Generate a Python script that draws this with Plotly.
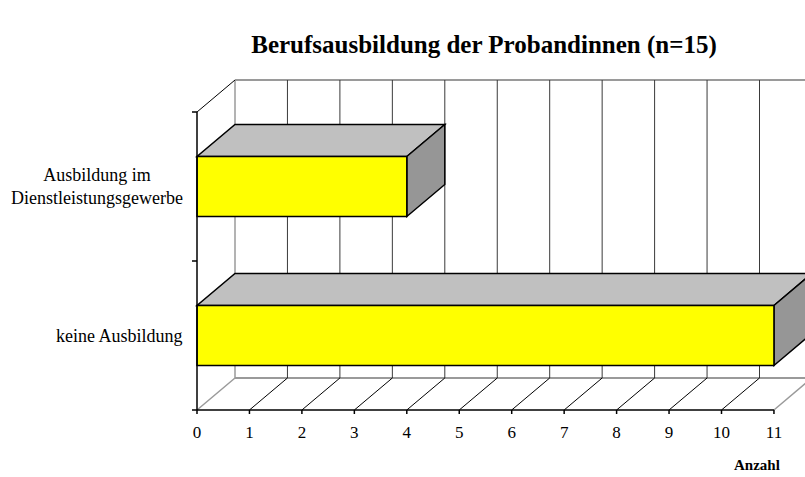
import plotly.graph_objects as go

# ---- data ----
categories = ["keine Ausbildung", "Ausbildung im<br>Dienstleistungsgewerbe"]
values = [11, 4]
x_ticks = list(range(0, 12))
title_text = "Berufsausbildung der Probandinnen (n=15)"
x_title = "Anzahl"

# ---- layout geometry (pixels) ----
W, H = 805, 477
X0_PX = 197          # pixel of value 0
PX_PER_X = 52.45     # pixels per unit on x
Y_BOTTOM_PX = 410    # pixel of y=-0.5 (front floor)
PX_PER_Y = 149       # pixels per category band
PLOT_L, PLOT_R, PLOT_T, PLOT_B = 190, 805, 60, 416
DEPTH_X_PX, DEPTH_Y_PX = 38, 32

x_min = (PLOT_L - X0_PX) / PX_PER_X
x_max = (PLOT_R - X0_PX) / PX_PER_X
y_min = -0.5 - (PLOT_B - Y_BOTTOM_PX) / PX_PER_Y
y_max = -0.5 + (Y_BOTTOM_PX - PLOT_T) / PX_PER_Y
dx = DEPTH_X_PX / PX_PER_X
dy = DEPTH_Y_PX / PX_PER_Y
bar_half = 30 / PX_PER_Y
n_cat = len(categories)
y_lo, y_hi = -0.5, n_cat - 0.5
x_end = max(x_ticks)

def px_to_paper(px, py):
    return ((px - PLOT_L) / (PLOT_R - PLOT_L), (PLOT_B - py) / (PLOT_B - PLOT_T))

FONT = "Liberation Serif, Times New Roman, serif"
GRID = "#3a3a3a"
EDGE = "#9a9a9a"

shapes = []

def line(x1, y1, x2, y2, color, width):
    shapes.append(dict(type="line", xref="x", yref="y", x0=x1, y0=y1, x1=x2, y1=y2,
                       line=dict(color=color, width=width), layer="above"))

def poly(pts, fill):
    p = "M " + " L ".join(f"{a},{b}" for a, b in pts) + " Z"
    shapes.append(dict(type="path", xref="x", yref="y", path=p, fillcolor=fill,
                       line=dict(color="black", width=1.5), layer="above"))

# back wall border lines
line(dx, y_hi + dy, x_max + 1, y_hi + dy, EDGE, 2)          # top edge of back wall
line(dx, y_lo + dy, x_max + 1, y_lo + dy, EDGE, 2)          # floor back edge
line(dx, y_lo + dy, dx, y_hi + dy, EDGE, 1.5)               # left edge of back wall
# back wall gridlines
for t in x_ticks[1:]:
    line(t + dx, y_lo + dy, t + dx, y_hi + dy, GRID, 1)
# floor diagonals
for t in x_ticks:
    col = EDGE if t in (0, x_end) else "black"
    line(t, y_lo, t + dx, y_lo + dy, col, 1 if col == "black" else 1.5)
# side wall top diagonal
line(0, y_hi, dx, y_hi + dy, "black", 1)

# bars (3D boxes)
for i, v in enumerate(values):
    c = i
    b, t = c - bar_half, c + bar_half
    poly([(0, t), (v, t), (v + dx, t + dy), (dx, t + dy)], "#C0C0C0")
    poly([(v, b), (v + dx, b + dy), (v + dx, t + dy), (v, t)], "#969696")
    poly([(0, b), (v, b), (v, t), (0, t)], "#FFFF00")

# front axes
line(0, y_lo, x_end, y_lo, "black", 1.5)
line(0, y_lo, 0, y_hi, "black", 1.5)
tick_x = 5 / PX_PER_X
tick_y = 4 / PX_PER_Y
for k in range(n_cat + 1):
    line(-tick_x, y_lo + k, 0, y_lo + k, "black", 1.5)
for t in x_ticks:
    line(t, y_lo, t, y_lo - tick_y, "black", 1.5)

annotations = []
lab_x, _ = px_to_paper(185, 0)
for i, cat in enumerate(categories):
    annotations.append(dict(x=lab_x, y=i, xref="paper", yref="y",
                            text=cat, showarrow=False, xanchor="right", yanchor="middle",
                            align="center", font=dict(family=FONT, size=18, color="black")))
ax_x, ax_y = px_to_paper(757, 465)
annotations.append(dict(x=ax_x, y=ax_y, xref="paper", yref="paper",
                        text=f"<b>{x_title}</b>", showarrow=False, xanchor="center",
                        yanchor="middle", font=dict(family=FONT, size=15, color="black")))

fig = go.Figure()
fig.add_trace(go.Scatter(x=[None], y=[None], showlegend=False, hoverinfo="skip"))

fig.update_layout(
    width=W, height=H,
    margin=dict(l=PLOT_L, r=W - PLOT_R, t=PLOT_T, b=H - PLOT_B, pad=0),
    paper_bgcolor="white", plot_bgcolor="white",
    showlegend=False,
    title=dict(text=f"<b>{title_text}</b>", x=484 / W, xanchor="center",
               y=1 - 44 / H, yanchor="middle",
               font=dict(family=FONT, size=25, color="black")),
    xaxis=dict(range=[x_min, x_max], tickmode="array", tickvals=x_ticks,
               ticktext=[str(t) for t in x_ticks], showgrid=False, zeroline=False,
               showline=False, ticks="", fixedrange=True, ticklabelstandoff=4,
               tickfont=dict(family=FONT, size=17, color="black")),
    yaxis=dict(range=[y_min, y_max], showgrid=False, zeroline=False, showline=False,
               showticklabels=False, ticks="", fixedrange=True),
    shapes=shapes,
    annotations=annotations,
)
fig.write_html("out.html", config={"displayModeBar": False},
               post_script="document.body.style.margin='0';")
